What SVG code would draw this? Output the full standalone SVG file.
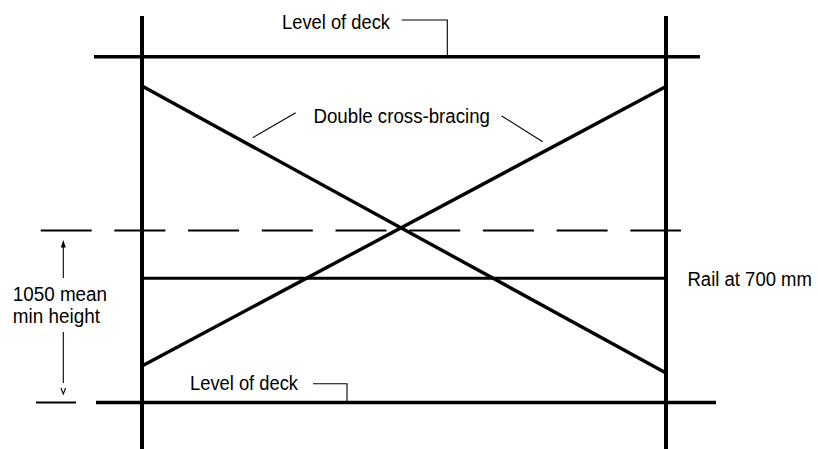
<svg xmlns="http://www.w3.org/2000/svg" width="818" height="449" viewBox="0 0 818 449">
<style>
.bg{fill:#fff}
.post{stroke:#000;stroke-width:4;fill:none}
.deck{stroke:#000;stroke-width:3.6;fill:none}
.brace{stroke:#000;stroke-width:3.4;fill:none}
.rail{stroke:#000;stroke-width:3;fill:none}
.dash{stroke:#000;stroke-width:2;fill:none;stroke-dasharray:51 22.7}
.lead{stroke:#000;stroke-width:1.1;fill:none}
.head{fill:#000;stroke:none}
text{font-family:"Liberation Sans",Arial,sans-serif;font-size:21px;fill:#000}
</style>
<rect class="bg" x="0" y="0" width="818" height="449"/>
<g id="posts">
<line id="post-left" class="post" x1="142" y1="16" x2="142" y2="449"/>
<line id="post-right" class="post" x1="666" y1="16" x2="666" y2="449"/>
</g>
<g id="decks">
<line id="deck-top" class="deck" x1="94" y1="56.7" x2="700" y2="56.7"/>
<line id="deck-bottom" class="deck" x1="96" y1="402.5" x2="716" y2="402.5"/>
<line id="deck-bottom-stub" class="lead" style="stroke-width:2" x1="36" y1="402.5" x2="76" y2="402.5"/>
</g>
<g id="bracing">
<line class="brace" x1="142" y1="86" x2="666" y2="373"/>
<line class="brace" x1="142" y1="366" x2="666" y2="86.5"/>
</g>
<g id="rail">
<line class="rail" x1="142" y1="278.3" x2="666" y2="278.3"/>
</g>
<g id="height-line">
<line class="dash" x1="40.7" y1="230.5" x2="681" y2="230.5"/>
</g>
<g id="connectors">
<polyline class="lead" points="401.7,20 447.3,20 447.3,56"/>
<polyline class="lead" points="313,383.7 347,383.7 347,402"/>
<line class="lead" x1="295.7" y1="112.7" x2="252.7" y2="137.7"/>
<line class="lead" x1="501.7" y1="116" x2="542.7" y2="141.7"/>
<line class="lead" x1="63.3" y1="278" x2="63.3" y2="246"/>
<polygon class="head" points="63.3,240 60.8,247.5 65.8,247.5"/>
<line class="lead" x1="63.3" y1="332" x2="63.3" y2="383"/>
<polyline class="lead" points="61,388 63.3,394 65.6,388"/>
</g>
<g id="labels">
<text transform="translate(282,29.3) scale(0.873,1)">Level of deck</text>
<text transform="translate(313.5,123.3) scale(0.89,1)">Double cross-bracing</text>
<text transform="translate(687.5,286) scale(0.882,1)">Rail at 700 mm</text>
<text transform="translate(12.7,301) scale(0.899,1)">1050 mean</text>
<text transform="translate(12.7,323) scale(0.901,1)">min height</text>
<text transform="translate(190,390) scale(0.873,1)">Level of deck</text>
</g>
</svg>
